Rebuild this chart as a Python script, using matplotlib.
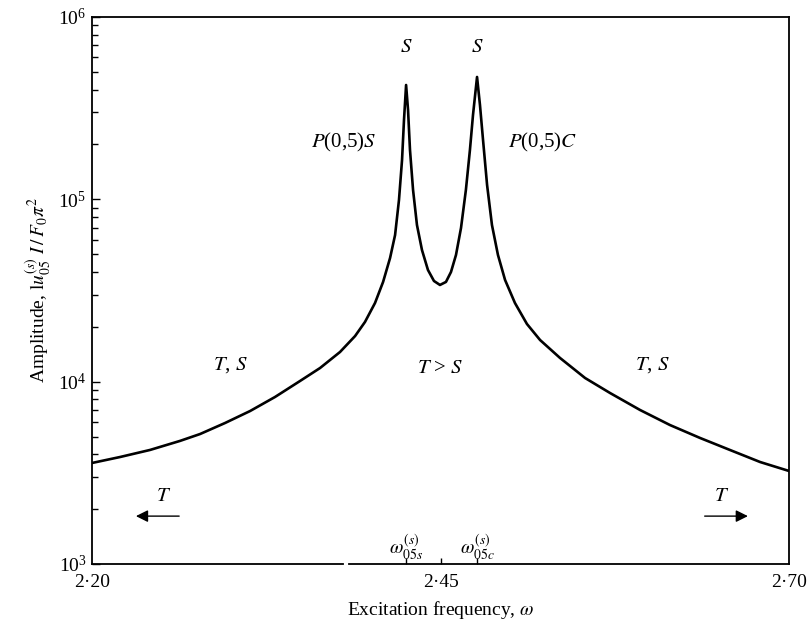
import matplotlib
import numpy as np

matplotlib.use("Agg")
import matplotlib.pyplot as plt
import matplotlib.transforms as mtransforms

plt.rcParams["font.family"] = ["Liberation Serif", "DejaVu Serif"]
plt.rcParams["mathtext.fontset"] = "stix"

# excitation frequency and amplitude
omega = [2.2000, 2.2201, 2.2416, 2.2631, 2.2775, 2.2954, 2.3134, 2.3313,
         2.3492, 2.3636, 2.3779, 2.3887, 2.3958, 2.4030, 2.4088, 2.4138,
         2.4174, 2.4202, 2.4224, 2.4238, 2.4253, 2.4267, 2.4281, 2.4303,
         2.4331, 2.4367, 2.4410, 2.4453, 2.4496, 2.4539, 2.4575, 2.4611,
         2.4647, 2.4682, 2.4711, 2.4733, 2.4762, 2.4783, 2.4805, 2.4834,
         2.4869, 2.4912, 2.4963, 2.5034, 2.5120, 2.5214, 2.5357, 2.5537,
         2.5716, 2.5931, 2.6146, 2.6362, 2.6577, 2.6793, 2.7000]
amplitude = [3580, 3860, 4220, 4730, 5160, 5930, 6900, 8240,
             10080, 11880, 14540, 17780, 21240, 26990, 35220, 47640,
             63680, 99130, 164400, 272300, 423600, 309000, 186500, 112500,
             72300, 52700, 40950, 35650, 33900, 35220, 39920, 49530,
             69660, 112500, 186500, 290100, 468800, 329000, 211500, 119900,
             72300, 49530, 36110, 26990, 20710, 16920, 13490, 10470,
             8664, 6993, 5781, 4909, 4217, 3623, 3236]

x_ticks = [2.20, 2.45, 2.70]
x_tick_labels = ["2\u00b720", "2\u00b745", "2\u00b770"]
axis_gap = (2.380, 2.384)


def main():
    fig = plt.figure(figsize=(8.1, 6.24), dpi=100)
    ax = fig.add_axes([0.1136, 0.0962, 0.8605, 0.8766])

    ax.plot(omega, amplitude, color="black", lw=1.9, solid_joinstyle="round")
    ax.set_yscale("log")
    ax.set_xlim(2.2, 2.7)
    ax.set_ylim(1e3, 1e6)

    # resonance peaks (sine and cosine modes)
    om = np.array(omega)
    amp = np.array(amplitude)
    left = om < 2.45
    w_s = om[left][np.argmax(amp[left])]
    w_c = om[~left][np.argmax(amp[~left])]

    # spines: bottom one has a break in it
    for side in ["top", "right", "left"]:
        ax.spines[side].set_linewidth(1.3)
    ax.spines["bottom"].set_visible(False)
    trans = mtransforms.blended_transform_factory(ax.transData, ax.transAxes)
    ax.plot([2.2, axis_gap[0]], [0, 0], color="black", lw=1.3, transform=trans, clip_on=False)
    ax.plot([axis_gap[1], 2.7], [0, 0], color="black", lw=1.3, transform=trans, clip_on=False)

    ax.set_xticks([w_s, 2.45, w_c])
    ax.set_xticklabels([])
    ax.tick_params(axis="x", direction="in", length=4, width=1, bottom=True, top=False)
    for xv, lab in zip(x_ticks, x_tick_labels):
        ax.text(xv, -0.019, lab, transform=trans, ha="center", va="top", fontsize=14)

    ax.tick_params(axis="y", which="both", direction="in", left=True, right=False,
                   labelsize=14, width=1, pad=4)
    ax.tick_params(axis="y", which="major", length=6)
    ax.tick_params(axis="y", which="minor", length=4)

    ax.set_xlabel("Excitation frequency, $\\omega$", fontsize=14, labelpad=22)
    ax.set_ylabel("Amplitude, $\\mathrm{l}u^{(s)}_{05}\\ I\\,/\\,F_0\\pi^2$", fontsize=14, labelpad=4)

    kw = dict(ha="center", va="center", fontsize=15)
    ax.text(w_s, 6.8e5, "$S$", **kw)
    ax.text(w_c, 6.8e5, "$S$", **kw)
    ax.text(2.3805, 2.04e5, "$P$(0,5)$S$", **kw)
    ax.text(2.5235, 2.04e5, "$P$(0,5)$C$", **kw)
    ax.text(2.2995, 1.23e4, "$T$, $S$", **kw)
    ax.text(2.4495, 1.18e4, "$T$ > $S$", **kw)
    ax.text(2.6017, 1.23e4, "$T$, $S$", **kw)
    ax.text(2.2517, 2.33e3, "$T$", **kw)
    ax.text(2.6520, 2.33e3, "$T$", **kw)
    ax.annotate("", xy=(2.2295, 1.83e3), xytext=(2.2645, 1.83e3),
                arrowprops=dict(arrowstyle="-|>", color="black", lw=1, mutation_scale=18))
    ax.annotate("", xy=(2.6725, 1.83e3), xytext=(2.6375, 1.83e3),
                arrowprops=dict(arrowstyle="-|>", color="black", lw=1, mutation_scale=18))
    ax.text(w_s, 1.24e3, "$\\omega^{(s)}_{05s}$", ha="center", va="center", fontsize=14)
    ax.text(w_c, 1.24e3, "$\\omega^{(s)}_{05c}$", ha="center", va="center", fontsize=14)

    fig.savefig("out.png", dpi=100)
    plt.close(fig)


if __name__ == "__main__":
    main()
